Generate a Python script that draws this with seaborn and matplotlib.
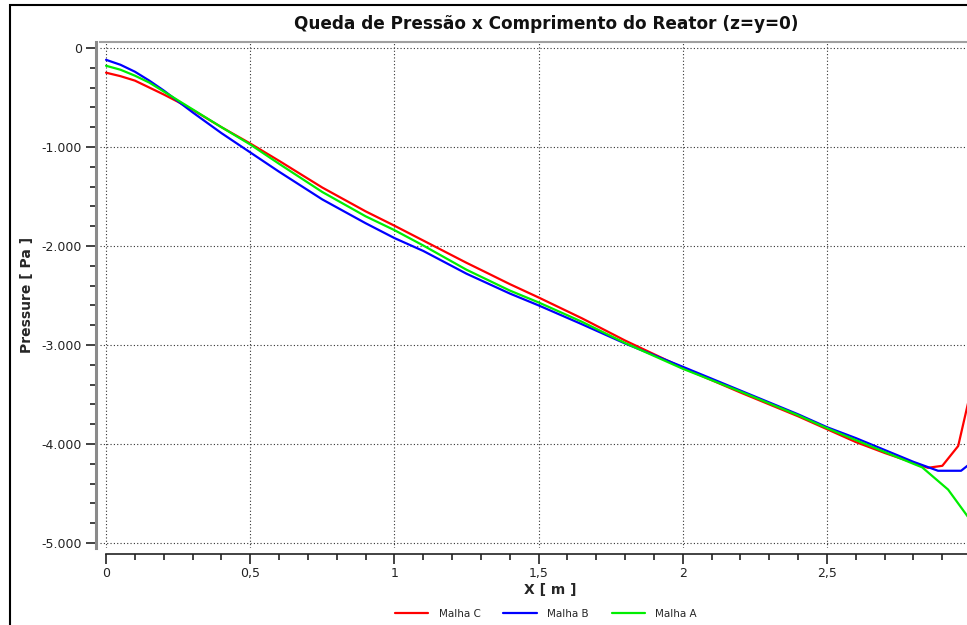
import numpy as np
import pandas as pd
import matplotlib
matplotlib.use('Agg')
import matplotlib.pyplot as plt
from matplotlib.patches import Rectangle
from matplotlib.ticker import MultipleLocator, FuncFormatter
import seaborn as sns

# Malha C (red)
x_c = [0, 0.05, 0.1, 0.15, 0.2, 0.25, 0.3, 0.4, 0.5, 0.6, 0.75, 0.9, 1.0, 1.1, 1.25, 1.32, 1.4, 1.5,
       1.65, 1.8, 2.0, 2.2, 2.4, 2.5, 2.6, 2.7, 2.8, 2.85, 2.9, 2.955, 3.0]
p_c = [-250, -285, -330, -400, -470, -545, -625, -800, -965, -1140, -1410, -1650, -1795, -1945,
       -2170, -2270, -2385, -2520, -2730, -2955, -3230, -3480, -3720, -3850, -3980, -4090, -4190,
       -4240, -4220, -4020, -3450]

# Malha B (blue)
x_b = [0, 0.05, 0.1, 0.15, 0.2, 0.25, 0.3, 0.4, 0.5, 0.6, 0.75, 0.9, 1.0, 1.1, 1.25, 1.4, 1.5,
       1.65, 1.8, 2.0, 2.2, 2.4, 2.5, 2.6, 2.7, 2.8, 2.885, 2.965, 3.0]
p_b = [-120, -170, -240, -330, -430, -540, -650, -860, -1055, -1250, -1530, -1770, -1920, -2050,
       -2280, -2480, -2600, -2790, -2985, -3220, -3460, -3700, -3830, -3940, -4060, -4180, -4270,
       -4270, -4190]

# Malha A (green)
x_a = [0, 0.05, 0.1, 0.15, 0.2, 0.25, 0.3, 0.4, 0.5, 0.6, 0.75, 0.9, 1.0, 1.1, 1.25, 1.4, 1.5,
       1.65, 1.8, 2.0, 2.2, 2.4, 2.5, 2.6, 2.7, 2.8, 2.83, 2.92, 3.0]
p_a = [-180, -220, -280, -350, -440, -530, -620, -800, -975, -1170, -1455, -1700, -1840, -1995,
       -2240, -2450, -2570, -2765, -2980, -3240, -3470, -3710, -3840, -3960, -4080, -4200, -4235,
       -4460, -4780]

series = ['Malha C', 'Malha B', 'Malha A']
colors = {'Malha C': '#ff0000', 'Malha B': '#0000ff', 'Malha A': '#00ee00'}

df = pd.concat([
    pd.DataFrame({'x': x_c, 'p': p_c, 'malha': 'Malha C'}),
    pd.DataFrame({'x': x_b, 'p': p_b, 'malha': 'Malha B'}),
    pd.DataFrame({'x': x_a, 'p': p_a, 'malha': 'Malha A'}),
], ignore_index=True)

sns.set_style('white')
plt.rcParams['font.family'] = ['DejaVu Sans']

W, H = 967, 625
fig = plt.figure(figsize=(W / 100, H / 100), dpi=100)
# plot area in pixels: left 100, top 42, bottom 548, extends past right edge
left, top, bottom, right = 100, 42, 548, 1000
ax = fig.add_axes([left / W, 1 - bottom / H, (right - left) / W, (bottom - top) / H])

sns.lineplot(data=df, x='x', y='p', hue='malha', hue_order=series, palette=colors,
             estimator=None, sort=True, linewidth=1.6, ax=ax, legend=False)

ax.set_xlim(-0.021, 3.1)
ax.set_ylim(-5050, 60)

ax.xaxis.set_major_locator(MultipleLocator(0.5))
ax.xaxis.set_minor_locator(MultipleLocator(0.1))
ax.yaxis.set_major_locator(MultipleLocator(1000))
ax.yaxis.set_minor_locator(MultipleLocator(200))

def fmt_x(v, pos):
    return ('%g' % round(v, 2)).replace('.', ',')

def fmt_y(v, pos):
    s = '{:,.0f}'.format(abs(v)).replace(',', '.')
    return ('-' + s) if v < -0.5 else s

ax.xaxis.set_major_formatter(FuncFormatter(fmt_x))
ax.yaxis.set_major_formatter(FuncFormatter(fmt_y))

ax.grid(True, which='major', color='#333333', linestyle=(0, (1, 2)), linewidth=0.8)

for s in ['top', 'right']:
    ax.spines[s].set_color('#a0a0a0')
    ax.spines[s].set_linewidth(1.5)
ax.spines['left'].set_position(('outward', 3))
ax.spines['left'].set_color('#8a8a8a')
ax.spines['left'].set_linewidth(2.2)
ax.spines['bottom'].set_position(('outward', 4))
ax.spines['bottom'].set_bounds(0, 3.1)
ax.spines['bottom'].set_color('#222222')
ax.spines['bottom'].set_linewidth(1.2)

ax.tick_params(axis='both', which='major', direction='out', length=7, width=1.2,
               color='#222222', labelsize=9, labelcolor='#222222', pad=3,
               left=True, bottom=True)
ax.tick_params(axis='both', which='minor', direction='out', length=4, width=1.2,
               color='#222222', left=True, bottom=True)

ax.set_xlabel('X [ m ]', fontsize=10, fontweight='bold', labelpad=2)
ax.set_ylabel('')
fig.text(27 / W, 1 - 295 / H, 'Pressure [ Pa ]', rotation=90, fontsize=10,
         fontweight='bold', ha='center', va='center')

fig.text(546 / W, 1 - 24 / H, 'Queda de Pressão x Comprimento do Reator (z=y=0)',
         fontsize=12.2, fontweight='bold', ha='center', va='center', color='#111111')

handles = [plt.Line2D([], [], color=colors[s], linewidth=1.6) for s in series]
fig.legend(handles, series, loc='center', bbox_to_anchor=(546 / W, 1 - 614 / H), ncol=3,
           frameon=False, fontsize=7.5, handlelength=3.2, columnspacing=2.2,
           handletextpad=1.0)

# outer black frame of the original screenshot
fig.add_artist(Rectangle((10 / W, -0.05), 1.2, 1 - 5 / H + 0.05, transform=fig.transFigure,
                         fill=False, edgecolor='black', linewidth=1.5))

fig.savefig('out.png', dpi=100)
